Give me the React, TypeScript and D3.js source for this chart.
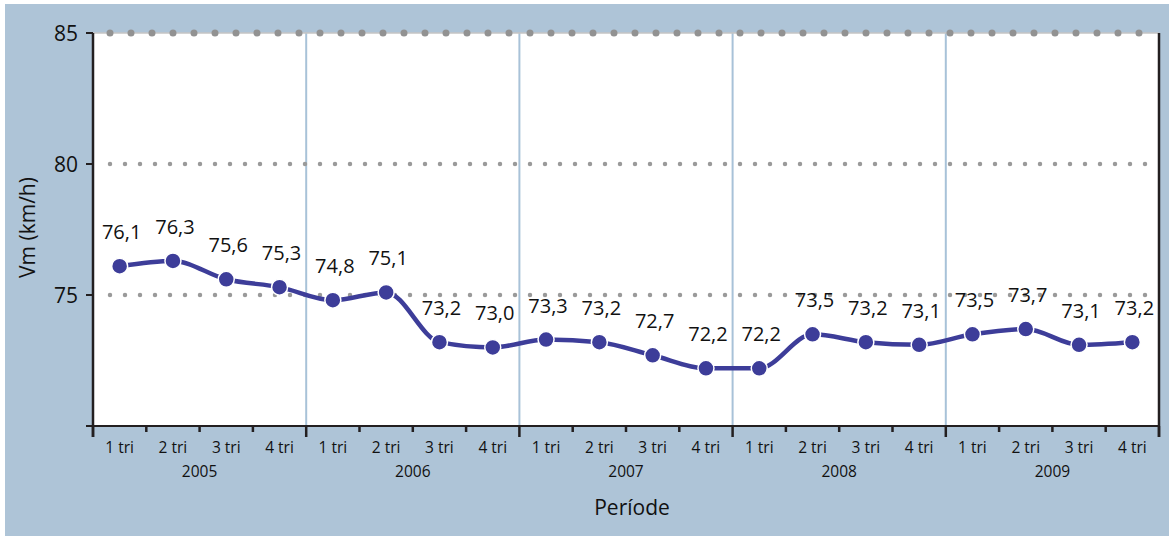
import React from "react";
import * as d3 from "d3";

// quarterly mean speed
const years = ["2005", "2006", "2007", "2008", "2009"];
const quarters = ["1 tri", "2 tri", "3 tri", "4 tri"];
const values = [
  76.1, 76.3, 75.6, 75.3,
  74.8, 75.1, 73.2, 73.0,
  73.3, 73.2, 72.7, 72.2,
  72.2, 73.5, 73.2, 73.1,
  73.5, 73.7, 73.1, 73.2,
];
const yTicks = [70, 75, 80, 85];
const yLabels = [75, 80, 85];

const W = 1169;
const H = 536;
const margin = { top: 33, right: 10, bottom: 110, left: 93 };

const font = "'Open Sans', 'Noto Sans', sans-serif";
const lineColor = "#3d3d99";

export default function App() {
  const left = margin.left;
  const right = W - margin.right;
  const top = margin.top;
  const bottom = H - margin.bottom;

  const idx = values.map((_, i) => i);
  const x = d3.scaleBand<number>().domain(idx).range([left, right]);
  const y = d3.scaleLinear().domain([70, 85]).range([bottom, top]);
  const yearX = d3.scaleBand<string>().domain(years).range([left, right]);

  const cx = (i: number) => (x(i) as number) + x.bandwidth() / 2;

  const line = d3
    .line<number>()
    .x((d, i) => cx(i))
    .y((d) => y(d))
    .curve(d3.curveMonotoneX);

  const bounds = d3.range(values.length + 1).map((i) => left + i * x.bandwidth());

  return (
    <svg width={W} height={H} style={{ position: "absolute", left: 0, top: 0 }}>
      <rect x={0} y={0} width={W} height={H} fill="#ffffff" />
      <rect x={5} y={4} width={W - 5} height={H - 4} fill="#aec4d7" />
      <rect x={left} y={top} width={right - left} height={bottom - top} fill="#ffffff" />

      {/* year separators */}
      {years.slice(1).map((yr) => (
        <line
          key={"sep" + yr}
          x1={yearX(yr)}
          x2={yearX(yr)}
          y1={top}
          y2={bottom}
          stroke="#a8c2d8"
          strokeWidth={2}
        />
      ))}

      {/* gridlines */}
      <line x1={left} x2={right} y1={y(85)} y2={y(85)} stroke="#c4c4c4" strokeWidth={1.5} />
      <line
        x1={left + 17}
        x2={right}
        y1={y(85)}
        y2={y(85)}
        stroke="#929292"
        strokeWidth={7}
        strokeLinecap="round"
        strokeDasharray="0 21"
      />
      {[75, 80].map((v) => (
        <line
          key={"g" + v}
          x1={left + 17}
          x2={right}
          y1={y(v)}
          y2={y(v)}
          stroke="#9a9a9a"
          strokeWidth={4.5}
          strokeLinecap="round"
          strokeDasharray="0 15"
        />
      ))}

      {/* axes */}
      <line x1={left} x2={left} y1={top} y2={bottom + 11} stroke="#231f20" strokeWidth={2.5} />
      <line x1={right} x2={right} y1={top} y2={bottom + 11} stroke="#231f20" strokeWidth={2.5} />
      <line x1={left - 7} x2={right} y1={bottom} y2={bottom} stroke="#231f20" strokeWidth={2} />
      {yTicks.map((v) => (
        <line key={"yt" + v} x1={left - 7} x2={left} y1={y(v)} y2={y(v)} stroke="#231f20" strokeWidth={2} />
      ))}
      {bounds.map((bx, i) =>
        i % 4 === 0 ? (
          <line key={"xt" + i} x1={bx} x2={bx} y1={bottom} y2={bottom + 11} stroke="#231f20" strokeWidth={2.5} />
        ) : (
          <line key={"xt" + i} x1={bx} x2={bx} y1={bottom} y2={bottom + 6} stroke="#231f20" strokeWidth={2.5} />
        )
      )}
      {yLabels.map((v) => (
        <text
          key={"yl" + v}
          x={left - 15}
          y={y(v)}
          dy="0.36em"
          textAnchor="end"
          fontFamily={font}
          fontSize={21}
          fill="#111"
        >
          {v}
        </text>
      ))}
      {idx.map((i) => (
        <text
          key={"q" + i}
          x={cx(i)}
          y={bottom + 27}
          textAnchor="middle"
          fontFamily={font}
          fontSize={15.5}
          fill="#111"
        >
          {quarters[i % 4]}
        </text>
      ))}
      {years.map((yr) => (
        <text
          key={"yr" + yr}
          x={(yearX(yr) as number) + yearX.bandwidth() / 2}
          y={bottom + 51}
          textAnchor="middle"
          fontFamily={font}
          fontSize={15.5}
          fill="#111"
        >
          {yr}
        </text>
      ))}
      <text
        x={632}
        y={515}
        textAnchor="middle"
        fontFamily={font}
        fontSize={21}
        fill="#111"
      >
        Període
      </text>
      <text
        transform={`translate(35,${(top + bottom) / 2 - 2}) rotate(-90)`}
        textAnchor="middle"
        fontFamily={font}
        fontSize={21}
        fill="#111"
      >
        Vm (km/h)
      </text>

      {/* series */}
      <path d={line(values) || ""} fill="none" stroke={lineColor} strokeWidth={4.5} />
      {values.map((v, i) => (
        <circle key={"c" + i} cx={cx(i)} cy={y(v)} r={8} fill={lineColor} stroke="#ffffff" strokeWidth={1.5} />
      ))}
      {values.map((v, i) => (
        <text
          key={"l" + i}
          x={cx(i) + 2}
          y={y(v) - 27}
          textAnchor="middle"
          fontFamily={font}
          fontSize={20}
          fill="#111"
        >
          {d3.format(".1f")(v).replace(".", ",")}
        </text>
      ))}
    </svg>
  );
}
